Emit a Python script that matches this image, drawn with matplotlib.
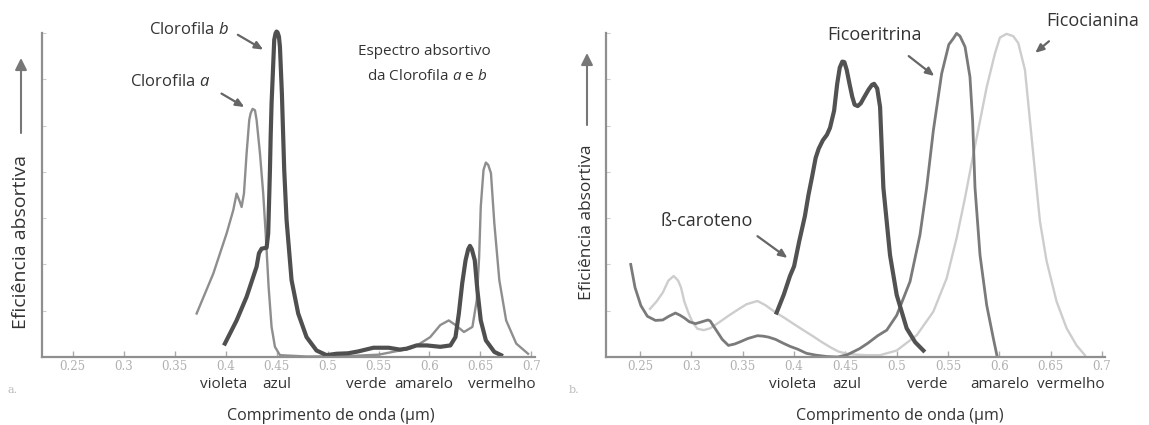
import numpy as np
import matplotlib
matplotlib.use("Agg")
import matplotlib.pyplot as plt
from matplotlib.patches import FancyArrowPatch

# ---- dados (comprimento de onda em um, eficiencia relativa) ----

# painel a: clorofilas
clor_a_x = [0.3716, 0.3879, 0.401, 0.4075, 0.4108, 0.414, 0.4157, 0.418, 0.4206, 0.4232,
            0.4245, 0.4265, 0.4288, 0.4304, 0.4337, 0.4369, 0.4395, 0.4422, 0.4451, 0.4484,
            0.4533, 0.48, 0.52, 0.55, 0.5709, 0.5808, 0.5907, 0.6007, 0.6106, 0.6189,
            0.6255, 0.6338, 0.6421, 0.6464, 0.6487, 0.6503, 0.653, 0.6553, 0.6576, 0.6603,
            0.6636, 0.6685, 0.6752, 0.6851, 0.6967]
clor_a_y = [0.94, 1.8, 2.67, 3.17, 3.53, 3.35, 3.24, 3.53, 4.4, 5.12,
            5.26, 5.36, 5.33, 5.12, 4.4, 3.53, 2.6, 1.51, 0.65, 0.22,
            0.04, 0.01, 0.02, 0.05, 0.14, 0.18, 0.29, 0.43, 0.69, 0.79,
            0.69, 0.54, 0.65, 1.23, 2.16, 3.25, 4.04, 4.2, 4.15, 3.97,
            2.89, 1.66, 0.79, 0.29, 0.07]

clor_b_x = [0.3993, 0.4108, 0.4206, 0.4304, 0.4327, 0.4353, 0.4402, 0.4418, 0.4435, 0.4442,
            0.4451, 0.4458, 0.4477, 0.4490, 0.45, 0.451, 0.4523, 0.4533, 0.4552, 0.4575,
            0.4598, 0.4647, 0.4712, 0.4794, 0.4892, 0.499, 0.5088, 0.52, 0.53, 0.545,
            0.56, 0.5709, 0.5775, 0.5874, 0.5974, 0.6106, 0.6205, 0.6255, 0.6288, 0.6321,
            0.6354, 0.638, 0.6397, 0.6415, 0.6444, 0.647, 0.6503, 0.6553, 0.6636, 0.6702]
clor_b_y = [0.29, 0.79, 1.3, 1.95, 2.24, 2.34, 2.36, 2.67, 4.04, 4.76,
            5.48, 5.84, 6.85, 6.99, 7.03, 7.01, 6.92, 6.7, 5.7, 4.04,
            2.96, 1.66, 0.94, 0.43, 0.14, 0.04, 0.07, 0.08, 0.12, 0.2,
            0.2, 0.16, 0.18, 0.25, 0.25, 0.22, 0.25, 0.43, 0.94, 1.59,
            2.09, 2.33, 2.4, 2.33, 2.09, 1.44, 0.79, 0.36, 0.11, 0.04]

# painel b: carotenoide e ficobilinas
caroteno_x = [0.383, 0.39, 0.396, 0.4, 0.405, 0.4105, 0.414, 0.4176, 0.421, 0.424,
              0.428, 0.432, 0.435, 0.439, 0.442, 0.4445, 0.447, 0.449, 0.4513, 0.454,
              0.4567, 0.459, 0.462, 0.465, 0.468, 0.4727, 0.476, 0.478, 0.481, 0.4838,
              0.487, 0.4935, 0.5, 0.5097, 0.518, 0.526]
caroteno_y = [0.96, 1.35, 1.75, 1.96, 2.5, 3.04, 3.5, 3.9, 4.3, 4.5,
              4.68, 4.8, 4.95, 5.32, 5.9, 6.25, 6.38, 6.37, 6.2, 5.9,
              5.62, 5.45, 5.42, 5.48, 5.6, 5.78, 5.88, 5.9, 5.8, 5.4,
              3.66, 2.2, 1.34, 0.62, 0.32, 0.14]

ficoeritrina_x = [0.2408, 0.245, 0.2507, 0.257, 0.2649, 0.272, 0.278, 0.2844, 0.289, 0.2933,
                  0.298, 0.304, 0.31, 0.316, 0.3182, 0.3235, 0.33, 0.336, 0.342, 0.3466,
                  0.355, 0.3643, 0.37, 0.375, 0.382, 0.3892, 0.396, 0.4034, 0.412, 0.4212,
                  0.432, 0.4425, 0.452, 0.4638, 0.472, 0.4815, 0.4903, 0.5, 0.513, 0.5227,
                  0.5292, 0.5357, 0.5438, 0.5508, 0.5552, 0.5584, 0.5617, 0.5666, 0.5714, 0.574,
                  0.5763, 0.5812, 0.5877, 0.5942, 0.598]
ficoeritrina_y = [2.0, 1.5, 1.11, 0.88, 0.79, 0.8, 0.88, 0.95, 0.9, 0.84,
                  0.76, 0.72, 0.76, 0.8, 0.78, 0.6, 0.38, 0.25, 0.28, 0.32,
                  0.4, 0.46, 0.45, 0.43, 0.38, 0.3, 0.23, 0.17, 0.08, 0.04,
                  0.01, 0.0, 0.05, 0.18, 0.3, 0.46, 0.58, 0.9, 1.63, 2.64,
                  3.66, 4.89, 6.12, 6.75, 6.88, 6.99, 6.93, 6.7, 6.05, 5.1,
                  3.66, 2.2, 1.12, 0.4, 0.0]

ficocianina_x = [0.2596, 0.266, 0.272, 0.2775, 0.2827, 0.287, 0.2898, 0.293, 0.2969, 0.301,
                 0.3058, 0.312, 0.3182, 0.327, 0.336, 0.345, 0.3537, 0.3643, 0.372, 0.3821,
                 0.391, 0.3999, 0.409, 0.4176, 0.4265, 0.4354, 0.443, 0.4513, 0.461, 0.4709,
                 0.4838, 0.5, 0.5195, 0.5357, 0.5487, 0.5584, 0.5666, 0.5747, 0.5812, 0.5877,
                 0.5958, 0.6006, 0.6071, 0.6136, 0.6185, 0.625, 0.6299, 0.6347, 0.6396, 0.6461,
                 0.6558, 0.6656, 0.6753, 0.6834]
ficocianina_y = [1.04, 1.2, 1.39, 1.65, 1.75, 1.65, 1.5, 1.2, 0.96, 0.75,
                 0.61, 0.58, 0.62, 0.75, 0.89, 1.02, 1.14, 1.21, 1.12, 0.96,
                 0.84, 0.71, 0.58, 0.46, 0.33, 0.21, 0.12, 0.07, 0.05, 0.04,
                 0.04, 0.14, 0.47, 0.98, 1.7, 2.57, 3.44, 4.38, 5.1, 5.83,
                 6.56, 6.9, 6.98, 6.93, 6.78, 6.2, 5.1, 4.02, 2.93, 2.07,
                 1.2, 0.62, 0.25, 0.04]

ticks_x = [0.25, 0.3, 0.35, 0.4, 0.45, 0.5, 0.55, 0.6, 0.65, 0.7]
ticks_lbl = ["0.25", "0.3", "0.35", "0.4", "0.45", "0.5", "0.55", "0.6", "0.65", "0.7"]
ticks_y = [1, 2, 3, 4, 5, 6, 7]

cores_nome = ["violeta", "azul", "verde", "amarelo", "vermelho"]
cores_pos_a = [0.398, 0.4505, 0.538, 0.594, 0.671]
cores_pos_b = [0.3987, 0.451, 0.5295, 0.600, 0.670]

plt.rcParams['font.family'] = ['Open Sans', 'DejaVu Sans']
plt.rcParams['mathtext.fontset'] = 'custom'
plt.rcParams['mathtext.rm'] = 'Open Sans'
plt.rcParams['mathtext.it'] = 'Open Sans:italic'

TXT = '#333333'
EIXO = '#8f8f8f'
SETA = '#666666'


def prepara_eixo(ax, xlim, cores_pos, letra_x, letra):
    ax.set_xlim(*xlim)
    ax.set_ylim(0, 7.1)
    for s in ['top', 'right']:
        ax.spines[s].set_visible(False)
    for s in ['left', 'bottom']:
        ax.spines[s].set_color(EIXO)
        ax.spines[s].set_linewidth(1.6)
    ax.spines['left'].set_bounds(0, 7)
    ax.set_xticks(ticks_x)
    ax.set_xticklabels(ticks_lbl, family='DejaVu Serif', fontsize=8.5, color='#b0b0b0')
    ax.set_yticks(ticks_y)
    ax.set_yticklabels([])
    ax.tick_params(axis='x', direction='in', length=4, width=1, color='#aaaaaa', pad=2)
    ax.tick_params(axis='y', direction='in', length=3, width=0.8, color='#cccccc')
    # nomes das cores embaixo do eixo
    for nome, x in zip(cores_nome, cores_pos):
        ax.text(x, -0.085, nome, transform=ax.get_xaxis_transform(), ha='center',
                va='center', fontsize=11, color=TXT)
    ax.text(0.503, -0.178, "Comprimento de onda (\u00b5m)", transform=ax.get_xaxis_transform(),
            ha='center', va='center', fontsize=11.5, color=TXT)
    ax.text(letra_x, -0.1, letra, transform=ax.get_xaxis_transform(), ha='center',
            va='center', fontsize=8, color='#bbbbbb', family='DejaVu Serif')


def seta(ax, de, para):
    ax.annotate("", xy=para, xytext=de,
                arrowprops=dict(arrowstyle='-|>,head_length=0.5,head_width=0.22',
                                color=SETA, lw=1.6, shrinkA=0, shrinkB=0))


def main():
    fig = plt.figure(figsize=(11.49, 4.25), dpi=100)
    fig.patch.set_facecolor('white')

    axa = fig.add_axes([42 / 1149, 68 / 425, 493 / 1149, 328.7 / 425])
    axb = fig.add_axes([606 / 1149, 68 / 425, 499 / 1149, 328.7 / 425])

    # ---- painel a ----
    axa.plot(clor_a_x, clor_a_y, color='#8e8e8e', lw=1.7, solid_joinstyle='round')
    axa.plot(clor_b_x, clor_b_y, color='#4f4f4f', lw=3.0, solid_joinstyle='round')
    prepara_eixo(axa, (0.2199, 0.7035), cores_pos_a, 0.1915, "a.")

    axa.text(0.364, 7.07, "Clorofila $\\mathit{b}$", ha='center', va='center',
             fontsize=12, color=TXT)
    seta(axa, (0.412, 6.96), (0.4369, 6.64))
    axa.text(0.3454, 5.94, "Clorofila $\\mathit{a}$", ha='center', va='center',
             fontsize=12, color=TXT)
    seta(axa, (0.396, 5.69), (0.4184, 5.4))
    axa.text(0.5954, 6.59, "Espectro absortivo", ha='center', va='center',
             fontsize=11, color=TXT)
    axa.text(0.5975, 6.05, "da Clorofila $\\mathit{a}$ e $\\mathit{b}$", ha='center',
             va='center', fontsize=11, color=TXT)

    # ---- painel b ----
    axb.plot(ficocianina_x, ficocianina_y, color='#cdcdcd', lw=1.7, solid_joinstyle='round')
    axb.plot(ficoeritrina_x, ficoeritrina_y, color='#7a7a7a', lw=2.0, solid_joinstyle='round')
    axb.plot(caroteno_x, caroteno_y, color='#525252', lw=3.0, solid_joinstyle='round')
    prepara_eixo(axb, (0.2167, 0.703), cores_pos_b, 0.1855, "b.")

    axb.text(0.691, 7.25, "Ficocianina", ha='center', va='center', fontsize=13, color=TXT)
    seta(axb, (0.6484, 6.82), (0.635, 6.57))
    axb.text(0.478, 6.96, "Ficoeritrina", ha='center', va='center', fontsize=13, color=TXT)
    seta(axb, (0.5117, 6.5), (0.5366, 6.07))
    axb.text(0.3146, 2.93, "\u00df-caroteno", ha='center', va='center', fontsize=13, color=TXT)
    seta(axb, (0.3643, 2.61), (0.3935, 2.14))

    # rotulo vertical com seta, nos dois paineis
    rotulos_y = [(21, 242, 14, 133, 58), (587, 222, 12.5, 125, 53)]
    for xpx, ypx, fs, y0, y1 in rotulos_y:
        fig.text(xpx / 1149, 1 - ypx / 425, "Efici\u00eancia absortiva", rotation=90,
                 ha='center', va='center', fontsize=fs, color=TXT)
        fig.patches.append(FancyArrowPatch(
            (xpx / 1149, 1 - y0 / 425), (xpx / 1149, 1 - y1 / 425),
            transform=fig.transFigure, arrowstyle='-|>,head_length=0.5,head_width=0.25',
            mutation_scale=14, color='#777777', lw=1.5, shrinkA=0, shrinkB=0))

    fig.savefig("out.png", dpi=100, facecolor='white')


if __name__ == "__main__":
    main()
